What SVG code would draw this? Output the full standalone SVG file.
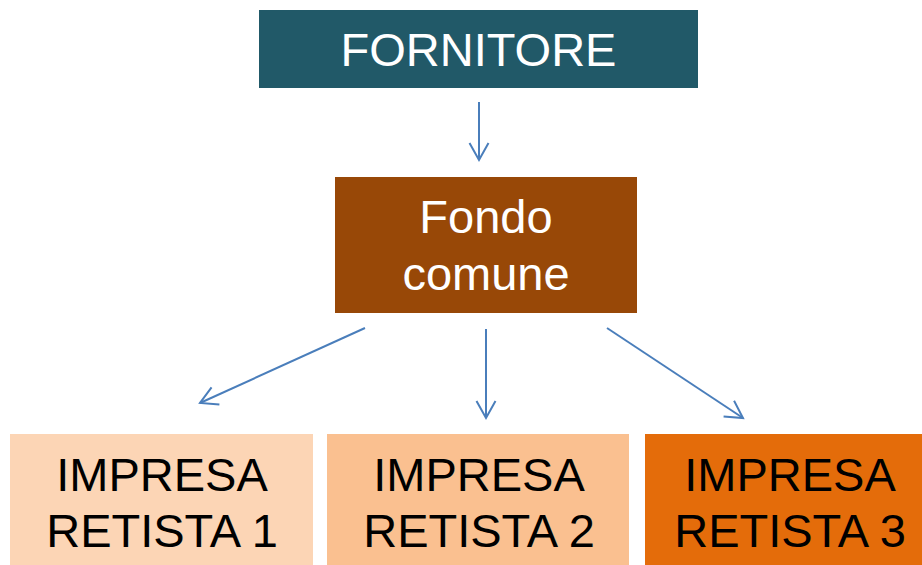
<svg xmlns="http://www.w3.org/2000/svg" width="922" height="565" viewBox="0 0 922 565">
<defs>
<style>
.t{font-family:"Liberation Sans",Arial,sans-serif;font-size:47px;text-anchor:middle}
.w{fill:#ffffff}
.k{fill:#000000}
.c{stroke:#4A7EBB;stroke-width:2;fill:none}
</style>
<marker id="ah" markerUnits="userSpaceOnUse" markerWidth="30" markerHeight="30" viewBox="-20 -15 25 30" refX="0" refY="0" orient="auto" overflow="visible">
<path d="M-17,-9.5 L0,0 L-17,9.5" fill="none" stroke="#4A7EBB" stroke-width="2"/>
</marker>
</defs>
<rect width="922" height="565" fill="#ffffff"/>
<g id="fornitore">
<rect x="259" y="10" width="439" height="78" fill="#215968"/>
<text class="t w" x="478.5" y="66">FORNITORE</text>
</g>
<g id="fondo">
<rect x="335" y="177" width="302" height="136" fill="#984807"/>
<text class="t w" x="486" y="233">Fondo</text>
<text class="t w" x="486" y="290">comune</text>
</g>
<g id="impresa1">
<rect x="10" y="434" width="303" height="131" fill="#FCD5B5"/>
<text class="t k" x="162" y="491">IMPRESA</text>
<text class="t k" x="162" y="547">RETISTA 1</text>
</g>
<g id="impresa2">
<rect x="327" y="434" width="302" height="131" fill="#FAC090"/>
<text class="t k" x="479" y="491">IMPRESA</text>
<text class="t k" x="479" y="547">RETISTA 2</text>
</g>
<g id="impresa3">
<rect x="645" y="434" width="290" height="131" fill="#E46C0A"/>
<text class="t k" x="790" y="491">IMPRESA</text>
<text class="t k" x="790" y="547">RETISTA 3</text>
</g>
<g id="connectors">
<line class="c" x1="479" y1="102" x2="479" y2="160" marker-end="url(#ah)"/>
<line class="c" x1="365" y1="328" x2="200" y2="403" marker-end="url(#ah)"/>
<line class="c" x1="486" y1="329" x2="486" y2="418" marker-end="url(#ah)"/>
<line class="c" x1="607" y1="328" x2="743" y2="418" marker-end="url(#ah)"/>
</g>
</svg>
